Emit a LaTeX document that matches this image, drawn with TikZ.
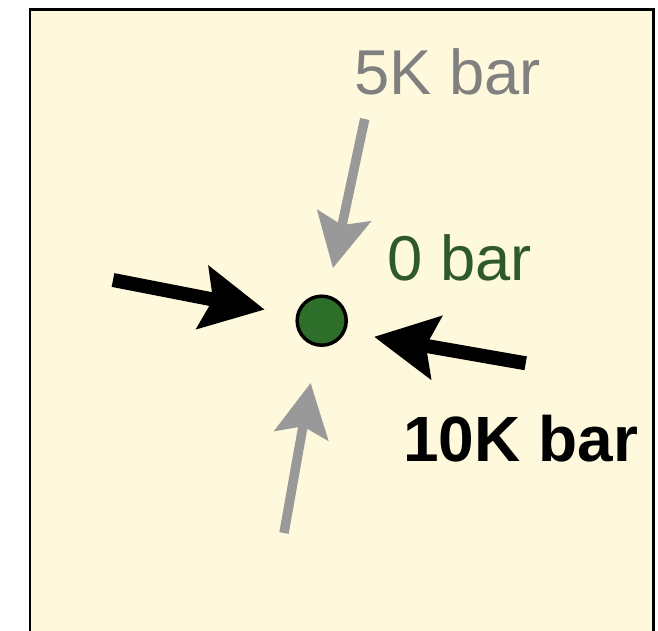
\documentclass[tikz,border=0pt]{standalone}
\usepackage{fontspec}
\setmainfont{Liberation Sans}
\usepackage{tikz}
\usetikzlibrary{arrows.meta}

\definecolor{cream}{HTML}{FEF9DC}
\definecolor{dotgreen}{HTML}{2D6E2A}
\definecolor{labelgreen}{HTML}{2E5A2B}
\definecolor{textgray}{HTML}{808080}
\definecolor{arrowgray}{HTML}{999999}

\begin{document}
\begin{tikzpicture}[x=0.75pt, y=-0.75pt,
    lbl/.style={font=\fontsize{47.5}{56}\selectfont, inner sep=0pt},
    bigpush/.style={line width=10.5pt, black, -{Stealth[length=47pt, width=47pt, inset=7.5pt]}},
    smallpush/.style={line width=7.1pt, arrowgray, -{Stealth[length=40pt, width=40.5pt, inset=7pt]}}]

    \useasboundingbox (0,0) rectangle (658,631);
    \clip (0,0) rectangle (658,631);
    \draw[line width=1.9pt, fill=cream] (30,9.5) rectangle (653.5,680);

    \node[circle, draw, line width=2.6pt, fill=dotgreen, minimum size=36.8pt, inner sep=0pt] (dot) at (321.7,320.7) {};

    \coordinate (lt) at (113,280);
    \coordinate (rt) at (525.7,363.3);
    \coordinate (tp) at (364.7,119);
    \coordinate (bt) at (284,533);

    \node[lbl, textgray, anchor=base west] (five) at (354,95) {5K bar};
    \node[lbl, labelgreen, anchor=base west] (zero) at (387,281) {0 bar};
    \node[lbl, anchor=base west, font=\fontsize{48}{56}\selectfont\bfseries] (ten) at (403,461) {10K bar};

    \path
        (lt) edge[bigpush, shorten >=23.8pt] (dot)
        (rt) edge[bigpush, shorten >=21.7pt] (dot.-25);

    \path
        (tp) edge[smallpush, shorten >=20.6pt] (dot)
        (bt) edge[smallpush, shorten >=27.7pt] (dot);

\end{tikzpicture}
\end{document}
